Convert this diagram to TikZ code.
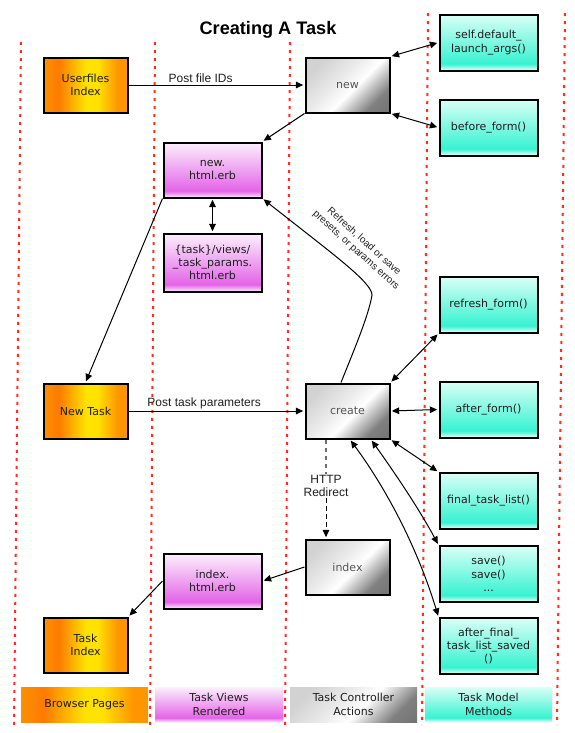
\documentclass[tikz,border=0pt]{standalone}
\usepackage{fontspec}
\setmainfont{DejaVu Sans}
\newfontfamily\arialf{Liberation Sans}
\usetikzlibrary{arrows.meta,calc}
\definecolor{txt}{RGB}{30,30,30}
\definecolor{ctltxt}{RGB}{85,85,85}
\definecolor{lanered}{RGB}{255,45,25}
\definecolor{oraA}{RGB}{250,145,0}
\definecolor{oraB}{RGB}{255,122,0}
\definecolor{yelC}{RGB}{255,226,0}
\definecolor{oraD}{RGB}{255,150,0}
\definecolor{vwB}{RGB}{250,236,250}
\definecolor{vwM}{RGB}{228,100,232}
\definecolor{vwT}{RGB}{252,240,252}
\definecolor{mdB}{RGB}{236,255,250}
\definecolor{mdM}{RGB}{55,242,210}
\definecolor{mdT}{RGB}{218,255,246}
\definecolor{gyA}{RGB}{100,100,100}
\definecolor{gyB}{RGB}{128,128,128}
\definecolor{gyC}{RGB}{236,236,236}
\definecolor{gyD}{RGB}{210,210,210}
\pgfdeclareverticalshading{browsershade}{100bp}{color(0bp)=(oraD); color(31bp)=(oraD); color(43bp)=(yelC); color(50bp)=(yelC); color(66bp)=(oraB); color(75bp)=(oraA); color(100bp)=(oraA)}
\pgfdeclareverticalshading{viewshade}{100bp}{color(0bp)=(vwB); color(25bp)=(vwB); color(31bp)=(vwM); color(75bp)=(vwT); color(100bp)=(vwT)}
\pgfdeclareverticalshading{modelshade}{100bp}{color(0bp)=(mdB); color(25bp)=(mdB); color(31bp)=(mdM); color(75bp)=(mdT); color(100bp)=(mdT)}
\pgfdeclareverticalshading{ctlshade}{100bp}{color(0bp)=(gyA); color(27bp)=(gyB); color(45bp)=(white); color(56bp)=(gyC); color(75bp)=(gyD); color(100bp)=(gyD)}
\begin{document}
\begin{tikzpicture}[x=0.75pt,y=-0.75pt,
  every node/.style={font=\fontsize{8.25}{10}\selectfont, text=txt, align=center},
  box/.style={draw=black, line width=1.5pt, inner sep=0pt, shade},
  bro/.style={box, shading=browsershade, shading angle=90, minimum width=63pt, minimum height=41.25pt},
  ctl/.style={box, shading=ctlshade, shading angle=45, minimum width=63pt, minimum height=41.25pt, text=ctltxt},
  vw/.style={box, shading=viewshade, minimum width=73.5pt, minimum height=41.25pt},
  mdl/.style={box, shading=modelshade, minimum width=73.5pt, minimum height=42pt},
  leg/.style={inner sep=0pt, shade, minimum height=26.25pt},
  conn/.style={line width=0.75pt, -{Triangle[length=5.5pt,width=5pt]}, shorten >=1pt},
  both/.style={line width=0.75pt, {Triangle[length=5.5pt,width=5pt]}-{Triangle[length=5.5pt,width=5pt]}, shorten >=1pt, shorten <=1pt},
  lab/.style={font=\arialf\fontsize{9}{9.75}\selectfont, text=txt},
  lane/.style={draw=lanered, line width=1.5pt, dash pattern=on 2.25pt off 3.75pt}
]
\useasboundingbox (0,0) rectangle (575,733);
% swim lane separators
\draw[lane] (21,42) -- (14,725);
\draw[lane] (155,42) -- (150,725);
\draw[lane] (290,42) -- (285,725);
\draw[lane] (428,13) -- (422,725);
\draw[lane] (565,13) -- (557,725);
% title
\node[font=\arialf\bfseries\fontsize{13.6}{15}\selectfont, text=black] (title) at (268,30) {Creating A Task};
% nodes
\node[bro] (uidx) at (85.5,85) {Userfiles\\Index};
\node[ctl] (new) at (347.5,85) {new};
\node[mdl] (sdla) at (488.5,42.5) {self.default\_\\launch\_args()};
\node[mdl] (bform) at (488.5,127.5) {before\_form()};
\node[vw] (newhtml) at (212.5,170) {new.\\html.erb};
\node[vw, minimum height=43.5pt] (params) at (212.5,262.5) {\{task\}/views/\\\_task\_params.\\html.erb};
\node[bro] (newtask) at (85.5,411) {New Task};
\node[ctl] (create) at (347.5,411) {create};
\node[mdl] (refresh) at (488.5,304.5) {refresh\_form()};
\node[mdl] (afterform) at (488.5,409.5) {after\_form()};
\node[mdl] (ftl) at (488.5,501) {final\_task\_list()};
\node[mdl] (save) at (488.5,574) {save()\\save()\\...};
\node[mdl] (afts) at (488.5,646) {after\_final\_\\task\_list\_saved\\()};
\node[ctl] (index) at (347.5,567) {index};
\node[vw] (indexhtml) at (212.5,581) {index.\\html.erb};
\node[bro] (taskindex) at (85.5,645) {Task\\Index};
% legend
\node[leg, shading=browsershade, shading angle=90, minimum width=95.25pt] (lbro) at (84.5,704.5) {Browser Pages};
\node[leg, shading=viewshade, minimum width=96pt] (lvw) at (219,704.5) {Task Views\\Rendered};
\node[leg, shading=ctlshade, shading angle=45, minimum width=95.25pt] (lctl) at (353.5,704.5) {Task Controller\\Actions};
\node[leg, shading=modelshade, minimum width=95.25pt] (lmdl) at (488.5,704.5) {Task Model\\Methods};
% connectors
\draw[conn] (uidx) -- node[lab, pos=0.41, above, inner sep=1.5pt] (pfid) {Post file IDs} (new);
\draw[both] (new.north east) -- (sdla.west);
\draw[both] (new.south east) -- (bform.west);
\draw[conn] (new.south west) -- (newhtml.north east);
\draw[both] (newhtml.south) -- (params.north);
\draw[conn] (newhtml.south west) -- (newtask.north);
\draw[conn] (newtask) -- node[lab, pos=0.43, above, inner sep=1.5pt] (ptp) {Post task parameters} (create);
\coordinate (peak) at (372,295);
\draw[conn] ($(create.north)+(-6.5,0)$) .. controls (352,355) and (369,315) .. (peak)
   .. controls (372,282) and (330,252) .. (newhtml.south east);
\node[font=\arialf\fontsize{7.5}{9}\selectfont, rotate=-42] (reflab) at (360,246) {Refresh, load or save\\presets, or params errors};
\draw[both] (create.north east) -- (refresh.south west);
\draw[both] (create.east) -- (afterform.west);
\draw[both] (create.south east) -- (ftl.north west);
\draw[both] ($(create.south)+(23.5,0)$) .. controls (395.5,474) and (418.5,508) .. (save.north west);
\draw[both] ($(create.south)+(2.5,0)$) .. controls (390,494) and (419,553) .. (afts.north west);
\node[lab, fill=white, inner sep=1pt] (http) at (326,486) {HTTP\\Redirect};
\draw[line width=0.9pt, draw=gray!85!black, dash pattern=on 3.5pt off 2.5pt] (http |- create.south) -- (http.north);
\draw[conn, dash pattern=on 3.5pt off 2.5pt] (http.south) -- (http |- index.north);
\draw[conn] (index.west) -- (indexhtml.east);
\draw[conn] (indexhtml.west) -- (taskindex.north east);
\end{tikzpicture}
\end{document}
